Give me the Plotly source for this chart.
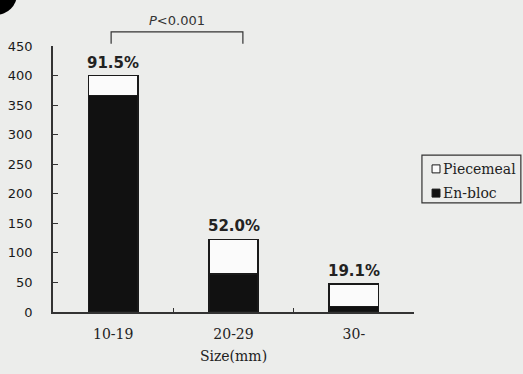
import plotly.graph_objects as go

# Lesion size groups and resection counts
sizes = ["10-19", "20-29", "30-"]
en_bloc = [366, 64, 9]
piecemeal = [34, 59, 38]
series_names = ["Piecemeal", "En-bloc"]
y_ticks = [0, 50, 100, 150, 200, 250, 300, 350, 400, 450]
p_label = "<i>P</i>&lt;0.001"

totals = [e + p for e, p in zip(en_bloc, piecemeal)]
rates = [f"{100 * e / t:.1f}%" for e, t in zip(en_bloc, totals)]

BG = "#ecedeb"
INK = "#1a1a1a"

fig = go.Figure()
fig.add_trace(go.Bar(
    x=sizes, y=en_bloc, name=series_names[1],
    marker=dict(color="#111111", line=dict(color=INK, width=1.5)),
    width=0.41, showlegend=False,
))
fig.add_trace(go.Bar(
    x=sizes, y=piecemeal, name=series_names[0],
    marker=dict(color="#fbfbfb", line=dict(color=INK, width=1.5)),
    width=0.41, showlegend=False,
))

# En-bloc rate above each stack
for s, t, r in zip(sizes, totals, rates):
    fig.add_annotation(x=s, y=t, text=r, showarrow=False, yanchor="bottom", yshift=2,
                       font=dict(family="DejaVu Sans", size=15, color="#222222", weight="bold"))

shapes = []
# significance bracket between the first two groups
shapes.append(dict(type="path", xref="paper", yref="paper",
                   path="M 0.161 1.008 L 0.161 1.053 L 0.526 1.053 L 0.526 1.008",
                   line=dict(color="#333333", width=1.2)))
fig.add_annotation(xref="paper", yref="paper", x=0.343, y=1.094, text=p_label,
                   showarrow=False, yanchor="middle",
                   font=dict(family="DejaVu Sans", size=13, color="#333333"))

# panel marker
shapes.append(dict(type="circle", xref="paper", yref="paper",
                   x0=-0.216, x1=-0.0997, y0=1.117, y1=1.274,
                   fillcolor="#000000", line=dict(width=0)))

# legend box
shapes.append(dict(type="rect", xref="paper", yref="paper", x0=1.022, x1=1.296, y0=0.410, y1=0.590,
                   line=dict(color="#333333", width=1.2), fillcolor=BG))
legend_rows = [(series_names[0], "#fbfbfb", 0.538), (series_names[1], "#111111", 0.447)]
for name, col, yc in legend_rows:
    shapes.append(dict(type="rect", xref="paper", yref="paper", x0=1.050, x1=1.072,
                       y0=yc - 0.015, y1=yc + 0.015, fillcolor=col,
                       line=dict(color=INK, width=1)))
    fig.add_annotation(xref="paper", yref="paper", x=1.076, y=yc, text=name, showarrow=False,
                       xanchor="left", yanchor="middle",
                       font=dict(family="DejaVu Serif", size=14, color="#222222"))

fig.update_layout(
    barmode="stack",
    width=523, height=374,
    margin=dict(l=53, r=109, t=46, b=62),
    paper_bgcolor=BG, plot_bgcolor=BG,
    shapes=shapes,
    xaxis=dict(
        type="category", range=[-0.5, 2.5], tickson="boundaries",
        ticks="inside", ticklen=4, tickwidth=1.2, tickcolor="#333333",
        showline=True, linecolor="#333333", linewidth=1.5, showgrid=False, zeroline=False,
        ticklabelstandoff=8, automargin=False,
        tickfont=dict(family="DejaVu Serif", size=14, color="#222222"),
        title=dict(text="Size(mm)", standoff=11,
                   font=dict(family="DejaVu Serif", size=14, color="#222222")),
    ),
    yaxis=dict(
        range=[0, 450], tickvals=y_ticks,
        ticks="inside", ticklen=5, tickwidth=1.2, tickcolor="#333333",
        showline=True, linecolor="#333333", linewidth=1.5, showgrid=False, zeroline=False,
        ticklabelstandoff=16, automargin=False,
        tickfont=dict(family="DejaVu Sans", size=13, color="#1a1a1a"),
    ),
)

fig.write_html("out.html")
